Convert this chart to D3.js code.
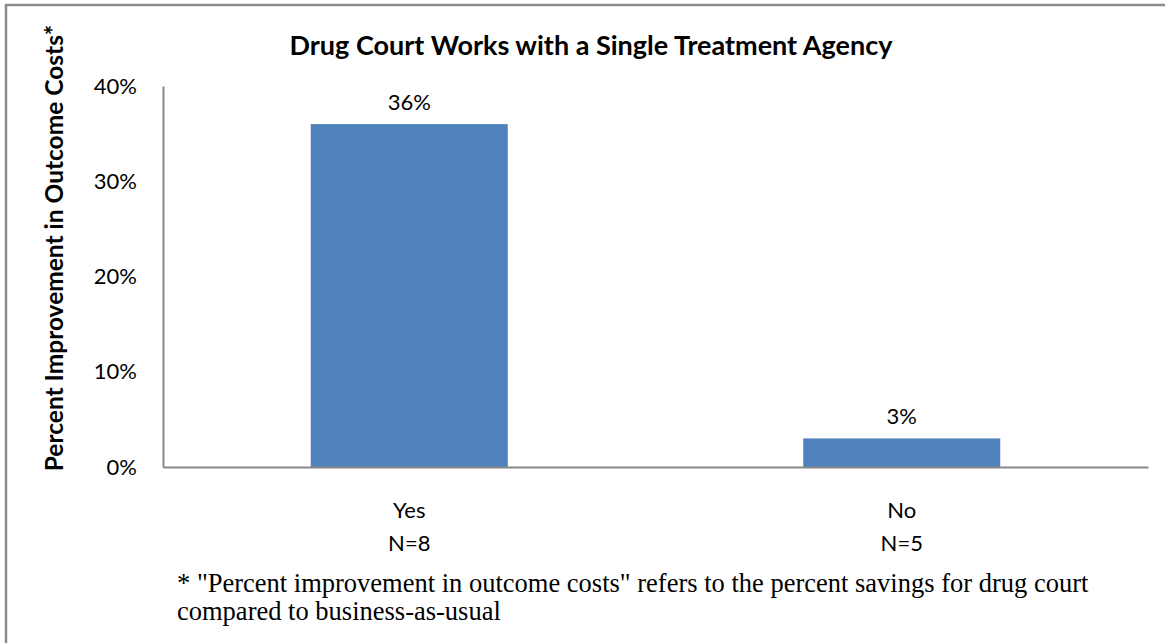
<!DOCTYPE html>
<html><head><meta charset="utf-8">
<script src="https://cdn.jsdelivr.net/npm/d3@7"></script>
<style>
html,body{margin:0;padding:0;background:#fff;}
svg{display:block;}
</style></head>
<body><svg id="chart" width="1165" height="643"></svg>
<script>
const categories = ["Yes", "No"];
const sampleSizes = ["N=8", "N=5"];
const values = [0.36, 0.03];
const valueLabels = ["36%", "3%"];
const yTicks = [0, 0.1, 0.2, 0.3, 0.4];
const yTickLabels = ["0%", "10%", "20%", "30%", "40%"];
const title = "Drug Court Works with a Single Treatment Agency";
const yTitle = "Percent Improvement in Outcome Costs*";
const footnote = ["* \"Percent improvement in outcome costs\" refers to the percent savings for drug court", "compared to business-as-usual"];

const sans = "Lato, 'Open Sans', sans-serif";
const serif = "'Liberation Serif', 'DejaVu Serif', serif";
const svg = d3.select("#chart");

// outer border (cropped on right/bottom)
svg.append("rect").attr("x", 6).attr("y", 5).attr("width", 1170).attr("height", 650)
  .attr("fill", "none").attr("stroke", "#8c8c8c").attr("stroke-width", 2.5);

const pLeft = 163, pRight = 1148, pTop = 86, pBottom = 467;
const x = d3.scaleBand().domain(categories).range([pLeft, pRight]).paddingInner(0.6).paddingOuter(0.3);
const y = d3.scaleLinear().domain([0, 0.4]).range([pBottom, pTop]);

// axes
const yAxis = d3.axisLeft(y).tickValues(yTicks).tickSize(0).tickPadding(26)
  .tickFormat((d, i) => yTickLabels[i]);
const gy = svg.append("g").attr("transform", `translate(${pLeft},0)`).call(yAxis);
gy.select(".domain").attr("stroke", "#878787").attr("stroke-width", 2);
gy.selectAll("text").attr("font-family", sans).attr("font-size", 22).attr("fill", "#000");

// bars
svg.append("g").selectAll("rect").data(categories).join("rect")
  .attr("x", d => x(d)).attr("width", x.bandwidth())
  .attr("y", (d, i) => y(values[i])).attr("height", (d, i) => y(0) - y(values[i]))
  .attr("fill", "#4F81BD");

const xAxis = d3.axisBottom(x).tickSize(0).tickFormat(() => "");
const gx = svg.append("g").attr("transform", `translate(0,${pBottom})`).call(xAxis);
gx.select(".domain").attr("stroke", "#878787").attr("stroke-width", 2);

// category labels
const catG = svg.append("g").attr("font-family", sans).attr("font-size", 22).attr("text-anchor", "middle");
categories.forEach((c, i) => {
  catG.append("text").attr("x", x(c) + x.bandwidth() / 2).attr("y", 518).text(c);
  catG.append("text").attr("x", x(c) + x.bandwidth() / 2).attr("y", 551).text(sampleSizes[i]);
});

// value labels
svg.append("g").attr("font-family", sans).attr("font-size", 22).attr("text-anchor", "middle")
  .selectAll("text").data(categories).join("text")
  .attr("x", d => x(d) + x.bandwidth() / 2)
  .attr("y", (d, i) => y(values[i]) - 14)
  .text((d, i) => valueLabels[i]);

// title
svg.append("text").attr("x", 591).attr("y", 55).attr("text-anchor", "middle")
  .attr("font-family", sans).attr("font-weight", "bold").attr("font-size", 27).text(title);

// y title
svg.append("text").attr("transform", "translate(63,248) rotate(-90)").attr("text-anchor", "middle")
  .attr("font-family", sans).attr("font-weight", "bold").attr("font-size", 24.5).text(yTitle);

// footnote
const fn = svg.append("g").attr("font-family", serif).attr("font-size", 26.5).attr("fill", "#000");
footnote.forEach((t, i) => fn.append("text").attr("x", 177).attr("y", 592 + i * 28).text(t));
</script></body></html>
